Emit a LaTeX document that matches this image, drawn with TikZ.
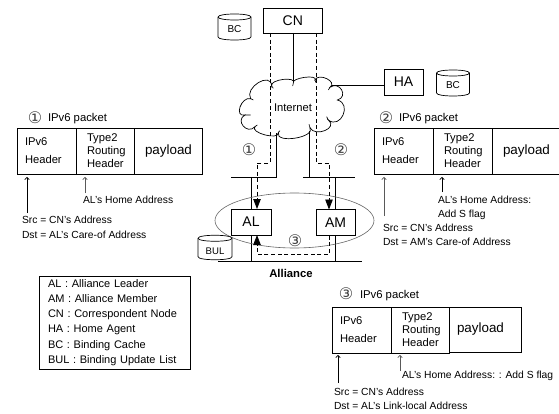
\documentclass[tikz,border=0pt]{standalone}
\usepackage{fontspec}
\setmainfont{Liberation Sans}
\newfontfamily\circfont{DejaVu Sans}
\usetikzlibrary{arrows.meta,shapes.geometric,calc}
\tikzset{
  every node/.style={inner sep=0pt,outer sep=0pt},
  line/.style={line width=0.8pt,black},
  devbox/.style={draw,line width=0.8pt,anchor=north west,font=\fontsize{14}{16}\selectfont},
  db/.style={minimum height=20pt,minimum width=33pt},
  dbline/.style={line width=0.7pt,black},
  dbtext/.style={font=\fontsize{10}{12}\selectfont},
  hcell/.style={draw,line width=0.9pt,anchor=north west,minimum height=46pt,inner xsep=8pt,align=left,font=\fontsize{11.2}{13}\selectfont},
  pay/.style={anchor=north west,minimum height=46pt,inner xsep=8pt,align=left,font=\fontsize{13.4}{15}\selectfont},
  lbl/.style={anchor=base west,font=\fontsize{10.3}{12}\selectfont},
  title/.style={anchor=base west,font=\fontsize{11.3}{13}\selectfont},
  circnum/.style={text=black!75,font=\circfont\fontsize{16}{18}\selectfont},
  dashline/.style={line width=0.9pt,dash pattern=on 4pt off 2.6pt},
  flow/.style={dashline,-{Triangle[length=10pt,width=7.5pt]}},
  ptr/.style={line width=0.7pt,-{To[length=3pt,width=5pt]}},
}
\newcommand{\dbbody}[1]{%
  \draw[dbline,fill=white] (#1.north west) -- (#1.south west)
    .. controls ($(#1.south west)+(0,4)$) and ($(#1.south east)+(0,4)$) .. (#1.south east)
    -- (#1.north east)
    .. controls ($(#1.north east)+(0,-4)$) and ($(#1.north west)+(0,-4)$) .. (#1.north west) -- cycle;
  \draw[dbline] (#1.north west)
    .. controls ($(#1.north west)+(0,4)$) and ($(#1.north east)+(0,4)$) .. (#1.north east);
}
\begin{document}
\begin{tikzpicture}[x=1pt,y=-1pt]
\useasboundingbox (0,0) rectangle (559,414);
% cloud
\begin{scope}[shift={(180,0)},x=0.3333pt,y=-0.3333pt]
\draw[line,line width=0.7pt,fill=white] (212,296)
 .. controls (192,263) and (273,213) .. (275,258)
 .. controls (268,238) and (353,228) .. (340,250)
 .. controls (330,234) and (415,222) .. (405,240)
 .. controls (415,217) and (474,245) .. (450,262)
 .. controls (479,241) and (507,291) .. (472,300)
 .. controls (517,311) and (482,389) .. (445,360)
 .. controls (476,384) and (405,413) .. (390,383)
 .. controls (408,413) and (285,432) .. (295,398)
 .. controls (298,422) and (208,398) .. (225,380)
 .. controls (202,406) and (164,361) .. (195,345)
 .. controls (161,352) and (184,289) .. (212,296) -- cycle;
\draw[line,line width=0.6pt] (212,296) -- (220,300) (275,258) -- (280,265) (340,250) -- (338,258)
  (405,240) -- (408,248) (450,262) -- (445,270) (445,360) -- (440,350)
  (390,383) -- (387,373) (295,398) -- (300,392) (225,380) -- (232,375) (195,345) -- (212,345);
\coordinate (cloudtop) at (339,246);
\coordinate (cloudright) at (456,256);
\coordinate (cloudbl) at (289,400);
\coordinate (cloudbr) at (387,392);
\end{scope}
\node[font=\fontsize{11.2}{13}\selectfont] (internet) at (293,108) {Internet};
% devices
\node[devbox,minimum width=58.5pt,minimum height=25pt] (CN) at (263.5,8) {CN};
\node[devbox,minimum width=39pt,minimum height=26pt] (HA) at (384,69) {HA};
\node[devbox,minimum width=40pt,minimum height=26pt] (AL) at (231,209) {AL};
\node[devbox,minimum width=39pt,minimum height=26pt] (AM) at (316,209.5) {AM};
\node[db] (BC1) at (234.5,27) {};
\dbbody{BC1}
\node[dbtext] (BC1t) at (234.5,29) {BC};
\node[db] (BC2) at (453,83) {};
\dbbody{BC2}
\node[dbtext] (BC2t) at (453,85) {BC};
% network lines
\coordinate (tl1) at (231,177); \coordinate (tl2) at (277,177);
\coordinate (tr1) at (303,177); \coordinate (tr2) at (355,177);
\coordinate (bus1) at (218,261); \coordinate (bus2) at (362,261);
\draw[line] (tl1) -- (tl2);
\draw[line] (tr1) -- (tr2);
\draw[line] (bus1) -- (bus2);
\draw[line] (CN.south -| cloudtop) -- (cloudtop);
\draw[line] (cloudright) -- (cloudright -| HA.west);
\draw[line] (cloudbl) -- (cloudbl |- tl2);
\draw[line] (cloudbr) -- (cloudbr |- tr1);
\draw[line] (251,177) -- (AL.north -| 251,0);
\draw[line] (AL.south -| 251,0) -- (251,261);
\draw[line] (335,177) -- (AM.north -| 335,0);
\draw[line] (AM.south -| 335,0) -- (335,261);
% Alliance ellipse
\node[draw=black!60,line width=0.6pt,ellipse,minimum width=159pt,minimum height=55pt] (alliance) at (294.5,220.5) {};
\node[db,minimum width=34pt,minimum height=18.5pt] (BUL) at (215,247.5) {};
\dbbody{BUL}
\node[font=\fontsize{9.6}{12}\selectfont] (BULt) at (215,251) {BUL};
\node[font=\fontsize{11.3}{13}\selectfont\bfseries] (alliancet) at (291,273) {Alliance};
% flows
\draw[flow] (270,33) -- (270,163) -- (257,163) -- (AL.north -| 257,0);
\draw[flow] (316,33) -- (316,163) -- (329,163) -- (AM.north -| 329,0);
\draw[flow] (AM.south -| 329,0) -- (329,254) -- (257,254) -- (AL.south -| 257,0);
\node[circnum] (c1) at (249,150) {①};
\node[circnum] (c2) at (341,150) {②};
\node[circnum] (c3) at (295,241) {③};
% packet 1
\node[circnum] (p1c) at (35,118) {①};
\node[title] (p1t) at (48,122) {IPv6 packet};
\node[hcell,text width=43pt] (p1h) at (17,128) {IPv6\\[5pt]Header};
\node[hcell,text width=42pt] (p1r) at (76,128) {\hspace*{3pt}Type2\\\hspace*{3pt}Routing\\\hspace*{3pt}Header};
\node[pay,draw,line width=0.9pt,text width=52pt] (p1p) at (134,128) {\hspace*{3pt}payload};
\coordinate (p1a) at (27,213); \coordinate (p1at) at (27,177);
\coordinate (p1b) at (85,193); \coordinate (p1bt) at (85,177);
\draw[ptr] (p1a) -- (p1at);
\draw[ptr,draw=black!65] (p1b) -- (p1bt);
\node[lbl] (p1l) at (83,204) {AL's Home Address};
\node[lbl] (p1s) at (22,223) {Src = CN's Address};
\node[lbl] (p1d) at (22,238) {Dst = AL's Care-of Address};
% packet 2
\node[circnum] (p2c) at (386,118) {②};
\node[title] (p2t) at (399,122) {IPv6 packet};
\node[hcell,text width=43pt] (p2h) at (374,128) {IPv6\\[5pt]Header};
\node[hcell,text width=43pt] (p2r) at (433,128) {\hspace*{3pt}Type2\\\hspace*{3pt}Routing\\\hspace*{3pt}Header};
\node[pay,text width=51pt] (p2p) at (492,128) {\hspace*{3pt}payload};
\coordinate (p2e1) at (559,128); \coordinate (p2e2) at (559,174);
\draw[line width=0.9pt] (p2p.north west) -- (p2e1);
\draw[line width=0.9pt] (p2p.south west) -- (p2e2);
\coordinate (p2a) at (384,216); \coordinate (p2at) at (384,177);
\coordinate (p2b) at (442,192); \coordinate (p2bt) at (442,177);
\draw[ptr,draw=black!65] (p2a) -- (p2at);
\draw[ptr] (p2b) -- (p2bt);
\node[lbl] (p2l) at (438,204) {AL's Home Address:};
\node[lbl] (p2m) at (438,217) {Add S flag};
\node[lbl] (p2s) at (383,231) {Src = CN's Address};
\node[lbl] (p2d) at (383,245) {Dst = AM's Care-of Address};
% packet 3
\node[circnum] (p3c) at (346,294) {③};
\node[title] (p3t) at (360,298) {IPv6 packet};
\node[hcell,text width=43pt] (p3h) at (332,307) {IPv6\\[5pt]Header};
\node[hcell,text width=42pt] (p3r) at (391,307) {\hspace*{3pt}Type2\\\hspace*{3pt}Routing\\\hspace*{3pt}Header};
\node[pay,draw,line width=0.9pt,text width=56pt,minimum height=45pt] (p3p) at (449,307) {payload};
\coordinate (p3a) at (338,383); \coordinate (p3at) at (338,355);
\coordinate (p3b) at (400,371); \coordinate (p3bt) at (400,355);
\draw[ptr] (p3a) -- (p3at);
\draw[ptr,draw=black!65] (p3b) -- (p3bt);
\node[lbl] (p3l) at (402,378) {AL's Home Address: : Add S flag};
\node[lbl] (p3s) at (334,395) {Src = CN's Address};
\node[lbl] (p3d) at (334,409) {Dst = AL's Link-local Address};
% legend
\node[draw,line width=0.8pt,anchor=north west,text width=145pt,inner xsep=3pt,minimum height=93pt,align=left,font=\fontsize{11}{15.2}\selectfont] (legend) at (39,276)
 {\hspace*{6pt}AL : Alliance Leader\\\hspace*{6pt}AM : Alliance Member\\\hspace*{6pt}CN : Correspondent Node\\\hspace*{6pt}HA : Home Agent\\\hspace*{6pt}BC : Binding Cache\\\hspace*{6pt}BUL : Binding Update List};
\end{tikzpicture}
\end{document}
